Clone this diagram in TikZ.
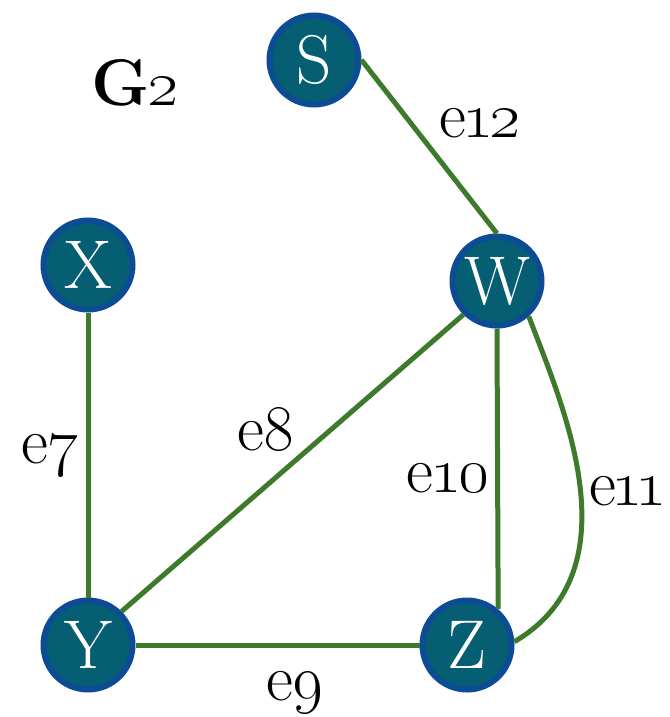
\RequirePackage{fix-cm}
\documentclass[tikz,border=0pt]{standalone}
\definecolor{nodefill}{HTML}{065E72}
\definecolor{noderim}{HTML}{0C4C94}
\definecolor{edgegreen}{HTML}{3E7A2B}
\tikzset{
  vtx/.style={circle, draw=noderim, line width=6pt, fill=nodefill, minimum size=89pt,
    inner sep=0pt, text=white, font=\fontsize{69}{69}\selectfont},
  lnk/.style={draw=edgegreen, line width=5pt},
  elab/.style={anchor=base, inner sep=0pt, font=\fontsize{66}{66}\selectfont}
}
\begin{document}
\begin{tikzpicture}[x=1pt,y=-1pt]
\useasboundingbox[fill=white] (0,0) rectangle (669,717);
\node[vtx] (S) at (314,60) {S};
\node[vtx] (X) at (88,265) {X};
\node[vtx] (W) at (497,281) {W};
\node[vtx] (Y) at (88,645) {Y};
\node[vtx] (Z) at (467,645) {Z};
\draw[lnk] (S.east) -- (W.north);
\draw[lnk] (X.south) -- (Y.north);
\draw[lnk] (Y.45) -- (W.225);
\draw[lnk] (Y.east) -- (Z.west);
\draw[lnk] (W.south) -- (Z.49);
\draw[lnk] (W.-48) .. controls (560,400) and (638,569) .. (Z.4);
\node[anchor=base, inner sep=0pt, font=\bfseries\fontsize{66}{66}\selectfont] (G) at (135,105) {G\kern-3pt\oldstylenums{2}};
\node[elab] (l12) at (480,137) {e\kern-3pt\oldstylenums{1}\kern-4pt\oldstylenums{2}};
\node[elab] (l7) at (50,463) {e\oldstylenums{7}};
\node[elab] (l8) at (266,450) {e\oldstylenums{8}};
\node[elab] (l10) at (448,492) {e\kern-3pt\oldstylenums{1}\kern-3pt\oldstylenums{0}};
\node[elab] (l11) at (628,505) {e\kern-5pt\oldstylenums{1}\kern-7pt\oldstylenums{1}};
\node[elab] (l9) at (295,700) {e\oldstylenums{9}};
\end{tikzpicture}
\end{document}
